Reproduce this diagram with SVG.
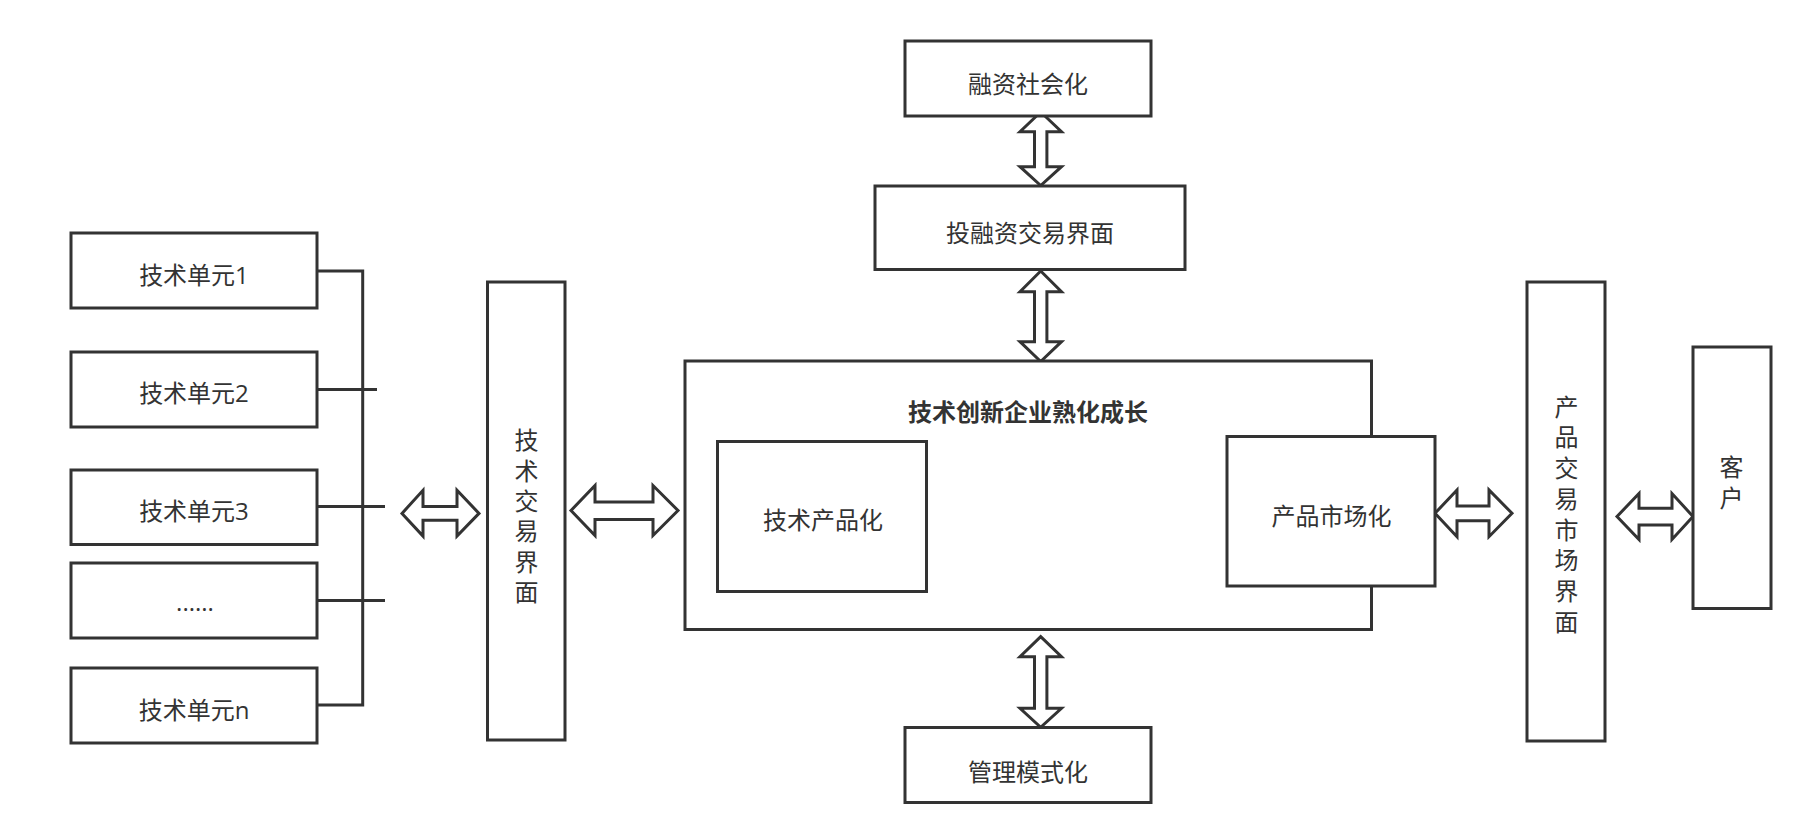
<svg xmlns="http://www.w3.org/2000/svg" width="1817" height="840" viewBox="0 0 1817 840">
<style>
.box{fill:#fff;stroke:#333;stroke-width:3}
.arr{fill:#fff;stroke:#333;stroke-width:3;stroke-linejoin:miter}
.ln{fill:none;stroke:#333;stroke-width:3}
text{font-family:"Open Sans","Noto Sans CJK SC",sans-serif;font-size:24px;fill:#333;text-anchor:middle}
.b{font-weight:bold}
</style>
<rect width="1817" height="840" fill="#fff"/>
<g id="connectors">
<path class="ln" d="M317 271H362.7V705H317M317 389.5H377M317 506.5H385M317 600.5H385"/>
<polygon class="arr" points="402,513.4 423,490.3 423,506.5 457,506.5 457,490.3 479,513.4 457,536.1 457,520.3 423,520.3 423,536.1"/>
<polygon class="arr" points="571,510.5 595,485.5 595,502 653,502 653,485.5 678,510.5 653,535.5 653,519.5 595,519.5 595,535.5"/>
<polygon class="arr" points="952.5,513.3 980,485 980,504.3 1159,504.3 1159,485 1186.5,513.3 1159,541.7 1159,522.3 980,522.3 980,541.7"/>
<polygon class="arr" points="1435,513.3 1457,490 1457,506 1489,506 1489,490 1512,513.3 1489,536.7 1489,520.7 1457,520.7 1457,536.7"/>
<polygon class="arr" points="1617,516.5 1639,493.5 1639,508.3 1672,508.3 1672,493.5 1693,516.5 1672,539.5 1672,525 1639,525 1639,539.5"/>
<polygon class="arr" points="1040.7,112 1061.5,131.7 1046.9,131.7 1046.9,166.7 1061.5,166.7 1040.7,185.5 1020,166.7 1034.5,166.7 1034.5,131.7 1020,131.7"/>
<polygon class="arr" points="1040.7,271 1061.5,291.7 1046.9,291.7 1046.9,341.7 1061.5,341.7 1040.7,361.5 1020,341.7 1034.5,341.7 1034.5,291.7 1020,291.7"/>
<polygon class="arr" points="1040.7,636.7 1061.5,656.7 1046.9,656.7 1046.9,708.3 1061.5,708.3 1040.7,727.3 1020,708.3 1034.5,708.3 1034.5,656.7 1020,656.7"/>
</g>
<g id="unit1"><rect class="box" x="71" y="233" width="246" height="75"/><text x="194" y="283.5">技术单元1</text></g>
<g id="unit2"><rect class="box" x="71" y="352" width="246" height="75"/><text x="194" y="402">技术单元2</text></g>
<g id="unit3"><rect class="box" x="71" y="470" width="246" height="74.5"/><text x="194" y="519.5">技术单元3</text></g>
<g id="unitdots"><rect class="box" x="71" y="563" width="246" height="75"/><text x="195" y="611">......</text></g>
<g id="unitn"><rect class="box" x="71" y="668" width="246" height="75"/><text x="194" y="719">技术单元n</text></g>
<g id="techtrade"><rect class="box" x="487.5" y="282" width="77.5" height="458"/>
<text x="526.5" y="449.4">技</text><text x="526.5" y="479.7">术</text><text x="526.5" y="510">交</text><text x="526.5" y="540.3">易</text><text x="526.5" y="570.6">界</text><text x="526.5" y="600.9">面</text></g>
<g id="main"><rect class="box" x="685" y="361" width="686.5" height="268.5"/><text class="b" x="1028" y="420.5">技术创新企业熟化成长</text></g>
<g id="techprod"><rect class="box" x="717.5" y="441.5" width="209" height="150"/><text x="823" y="529">技术产品化</text></g>
<g id="prodmarket"><rect class="box" x="1227" y="436.5" width="208" height="149.5"/><text x="1331.5" y="525">产品市场化</text></g>
<g id="finsoc"><rect class="box" x="905" y="41" width="246" height="75"/><text x="1028" y="92.5">融资社会化</text></g>
<g id="fintrade"><rect class="box" x="875" y="186" width="310" height="83.5"/><text x="1030" y="242">投融资交易界面</text></g>
<g id="mgmt"><rect class="box" x="905" y="727.5" width="246" height="75"/><text x="1028" y="780.5">管理模式化</text></g>
<g id="prodtrade"><rect class="box" x="1527" y="282" width="78" height="459"/>
<text x="1566.5" y="415.7">产</text><text x="1566.5" y="446.4">品</text><text x="1566.5" y="477.1">交</text><text x="1566.5" y="507.8">易</text><text x="1566.5" y="538.5">市</text><text x="1566.5" y="569.2">场</text><text x="1566.5" y="599.9">界</text><text x="1566.5" y="630.6">面</text></g>
<g id="customer"><rect class="box" x="1693" y="347" width="78" height="261.5"/><text x="1731.5" y="475.7">客</text><text x="1731.5" y="507.3">户</text></g>
</svg>
